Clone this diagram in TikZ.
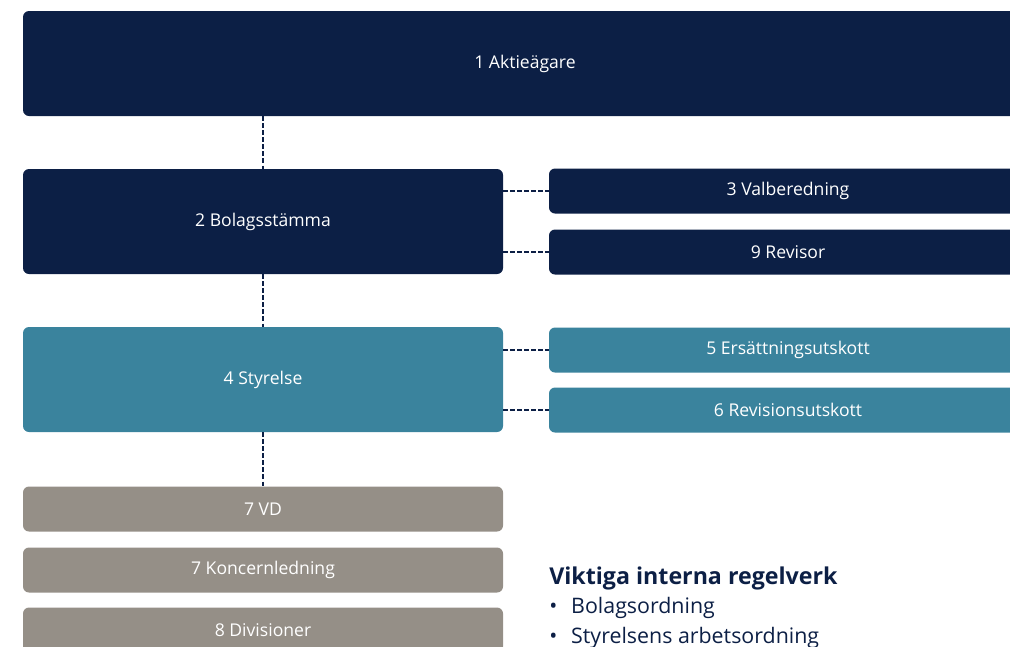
\documentclass[tikz,border=0pt]{standalone}
\usepackage{fontspec}
\setmainfont{Open Sans}
\usetikzlibrary{positioning}
\definecolor{navy}{HTML}{0C1F45}
\definecolor{teal}{HTML}{3A839D}
\definecolor{stone}{HTML}{958F87}
\begin{document}
\begin{tikzpicture}[x=0.025cm, y=-0.025cm,
  box/.style={fill=#1, rounded corners=0.15cm, text=white, inner sep=0pt,
    minimum width=478*0.025cm, font=\fontsize{12.5}{14}\selectfont},
  tall/.style={minimum height=105*0.025cm},
  short/.style={minimum height=45*0.025cm},
  wide/.style={minimum width=1004*0.025cm},
  link/.style={navy, dashed, dash pattern=on 3pt off 2pt, line width=0.8pt}]
\useasboundingbox (0,0) rectangle (1010,646);
\clip (0,0) rectangle (1010,646);
% top level
\node (aktie) at (525,63.5) [box=navy, tall, wide] {1 Aktieägare};
\node (stamma) at (263,221.5) [box=navy, tall, minimum width=480*0.025cm] {2 Bolagsstämma};
\node (valb) at (788,191) [box=navy, short] {3 Valberedning};
\node (revisor) at (788,252) [box=navy, short] {9 Revisor};
% board
\node (styrelse) at (263,379.5) [box=teal, tall, minimum width=480*0.025cm] {4 Styrelse};
\node (ersatt) at (788,350) [box=teal, short] {5 Ersättningsutskott};
\node (revutsk) at (788,410) [box=teal, short] {6 Revisionsutskott};
% management
\node (vd) at (263,509) [box=stone, short, minimum width=480*0.025cm] {7 VD};
\node (koncern) at (263,570) [box=stone, short, minimum width=480*0.025cm] {7 Koncernledning};
\node (division) at (263,630) [box=stone, short, minimum width=480*0.025cm] {8 Divisioner};
% links
\draw [link] (aktie.south -| stamma) -- (stamma.north);
\draw [link] (stamma) -- (styrelse);
\draw [link] (styrelse.south) -- (vd.north);
\draw [link] (stamma.east |- valb) -- (valb.west);
\draw [link] (stamma.east |- revisor) -- (revisor.west);
\draw [link] (styrelse.east |- ersatt) -- (ersatt.west);
\draw [link] (styrelse.east |- revutsk) -- (revutsk.west);
% regelverk
\node (rubrik) at (549,578) [anchor=west, inner sep=0pt, text=navy,
  font=\fontsize{16.5}{20}\selectfont\bfseries] {Viktiga interna regelverk};
\node (punkt1) at (549,608) [anchor=west, inner sep=0pt, text=navy,
  font=\fontsize{15.2}{18}\selectfont] {\textbullet\hspace{0.65em}Bolagsordning};
\node (punkt2) at (549,638) [anchor=west, inner sep=0pt, text=navy,
  font=\fontsize{15.2}{18}\selectfont] {\textbullet\hspace{0.65em}Styrelsens arbetsordning};
\end{tikzpicture}
\end{document}
